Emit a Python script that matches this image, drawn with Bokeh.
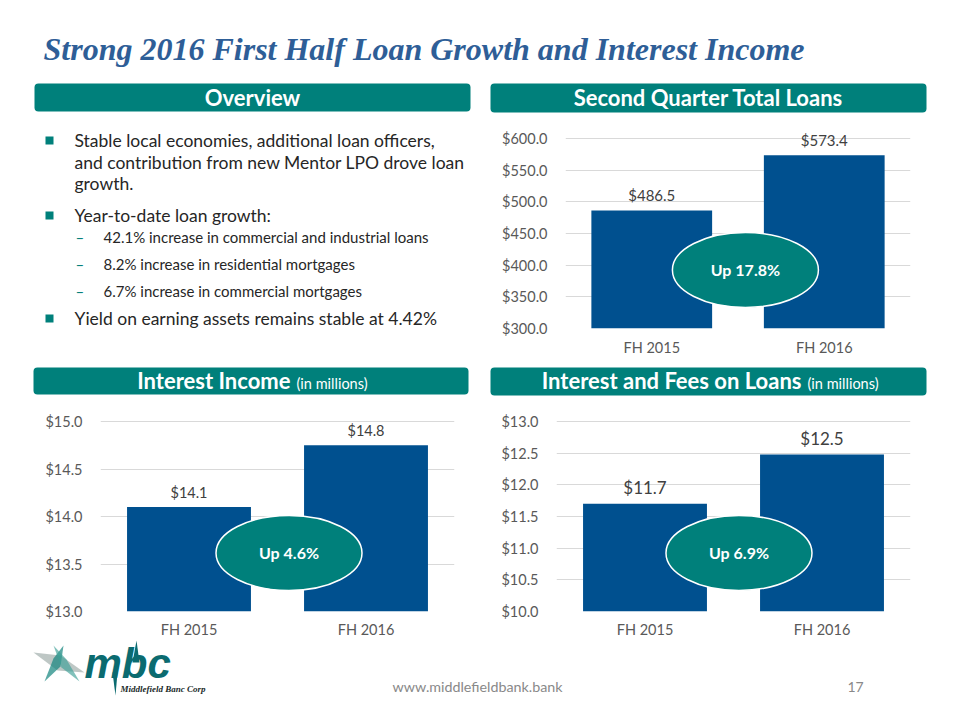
from bokeh.plotting import figure
from bokeh.layouts import column, row
from bokeh.models import Range1d, FixedTicker, NumeralTickFormatter
from bokeh.core.properties import value
from bokeh.embed import file_html
from bokeh.resources import INLINE

# ---------------- data ----------------
categories = ["FH 2015", "FH 2016"]

loans = [486.5, 573.4]
loans_labels = ["$486.5", "$573.4"]
loans_ticks = [300, 350, 400, 450, 500, 550, 600]

income = [14.1, 14.75]
income_labels = ["$14.1", "$14.8"]
income_ticks = [13.0, 13.5, 14.0, 14.5, 15.0]

fees = [11.7, 12.48]
fees_labels = ["$11.7", "$12.5"]
fees_ticks = [10.0, 10.5, 11.0, 11.5, 12.0, 12.5, 13.0]

growth = ["Up 17.8%", "Up 4.6%", "Up 6.9%"]

title_text = "Strong 2016 First Half Loan Growth and Interest Income"
main_bullets = [
    ["Stable local economies, additional loan officers,",
     "and contribution from new Mentor LPO drove loan",
     "growth."],
    ["Year-to-date loan growth:"],
    ["Yield on earning assets remains stable at 4.42%"],
]
sub_bullets = [
    "42.1% increase in commercial and industrial loans",
    "8.2% increase in residential mortgages",
    "6.7% increase in commercial mortgages",
]

# ---------------- style ----------------
TEAL = "#00807B"
BLUE = "#00508F"
TITLE_C = "#2E5E97"
TXT = "#262626"
AX = "#595959"
VAL = "#404040"
GRID = "#D9D9D9"
FONT = "Lato"


def deco(w, h, x0, y0, bt=0, bb=0):
    # figure whose data coordinates are page pixels (y grows downward)
    p = figure(width=w, height=h, x_range=Range1d(x0, x0 + w),
               y_range=Range1d(y0 + h - bb, y0 + bt),
               x_axis_type=None, y_axis_type=None, toolbar_location=None,
               output_backend="svg", min_border=0, outline_line_color=None)
    p.min_border_left = 0
    p.min_border_right = 0
    p.min_border_top = bt
    p.min_border_bottom = bb
    return p


def txt(p, x, y, s, size, color, style="normal", align="left", font=FONT):
    p.text(x=[x], y=[y], text=[s], text_font=value(font), text_font_size=value(size),
           text_color=color, text_font_style=style, text_align=align, text_baseline="middle")


def header(p, x0, x1, y0, y1, main, sub=None, split=None, cy=97):
    p.quad(left=[x0], right=[x1], top=[y0], bottom=[y1], fill_color=TEAL, line_color=None,
           border_radius=4)
    if sub is None:
        txt(p, (x0 + x1) / 2, cy, main, "22px", "white", "bold", "center")
    else:
        txt(p, split - 3, cy, main, "22px", "white", "bold", "right")
        txt(p, split + 3, cy + 3, sub, "14.5px", "white", "normal", "left")


# ---------------- top band ----------------
top = deco(960, 114, 0, 0)
txt(top, 43, 48.5, title_text, "32px", TITLE_C, "bold italic", "left", font="Liberation Serif")
header(top, 34, 470, 83, 111, "Overview")
header(top, 490, 926, 83, 112, "Second Quarter Total Loans")

# ---------------- overview (borders match the chart beside it) ----------------
ov = deco(480, 250, 0, 114, bt=10, bb=36)
main_y = [[140, 162, 183], [215], [318]]
sub_y = [236, 263, 290]
for lines, ys in zip(main_bullets, main_y):
    ov.quad(left=[45], right=[53], top=[ys[0] - 4], bottom=[ys[0] + 4], fill_color=TEAL, line_color=None)
    for s, y in zip(lines, ys):
        txt(ov, 74, y, s, "17.5px", TXT)
for s, y in zip(sub_bullets, sub_y):
    txt(ov, 75, y, "\u2013", "15px", TEAL)
    txt(ov, 103, y, s, "15px", TXT)


# ---------------- charts ----------------
def chart(w, h, left, right, top_b, bottom_b, ymin, px_per_unit, frame_h, ticks, vals, labels,
          badge, badge_x, badge_y, label_size, label_off, xstand):
    ymax = ymin + frame_h / px_per_unit
    p = figure(width=w, height=h, x_range=Range1d(-0.5, 1.5), y_range=Range1d(ymin, ymax),
               toolbar_location=None, output_backend="svg", outline_line_color=None,
               min_border_left=left, min_border_right=right, min_border_top=top_b,
               min_border_bottom=bottom_b)
    xs = list(range(len(categories)))
    p.vbar(x=xs, top=vals, bottom=ymin, width=0.7, fill_color=BLUE, line_color=None)
    p.text(x=xs, y=vals, text=labels, text_font=value(FONT), text_font_size=value(label_size),
           text_color=VAL, text_align="center", text_baseline="middle", y_offset=label_off)
    p.ellipse(x=[badge_x], y=[badge_y], width=146, height=75, width_units="screen",
              height_units="screen", fill_color=TEAL, line_color="white", line_width=1.5)
    p.text(x=[badge_x], y=[badge_y], text=[badge], text_font=value(FONT),
           text_font_size=value("16px"), text_font_style="bold", text_color="white",
           text_align="center", text_baseline="middle")
    p.yaxis.ticker = FixedTicker(ticks=ticks)
    p.yaxis.formatter = NumeralTickFormatter(format="$0.0")
    p.ygrid.ticker = FixedTicker(ticks=ticks)
    p.ygrid.grid_line_color = GRID
    p.xgrid.visible = False
    p.xaxis.ticker = FixedTicker(ticks=xs)
    p.xaxis.major_label_overrides = {i: c for i, c in enumerate(categories)}
    for ax in (p.xaxis, p.yaxis):
        ax.axis_line_color = None
        ax.major_tick_line_color = None
        ax.minor_tick_line_color = None
        ax.major_tick_out = 0
        ax.major_label_text_font = FONT
        ax.major_label_text_font_size = "14.5px"
        ax.major_label_text_color = AX
    p.yaxis.major_label_standoff = 18
    p.xaxis.major_label_standoff = xstand
    return p


c1 = chart(480, 250, 85, 50, 10, 36, 300, 190 / 300, 204, loans_ticks, loans, loans_labels,
           growth[0], 0.543, 392.4, "15px", -15, 10)

hdr = deco(960, 34, 0, 364)
header(hdr, 33, 468, 367, 394, "Interest Income", "(in millions)", 293, cy=380)
header(hdr, 490, 926, 367, 395, "Interest and Fees on Loans", "(in millions)", 804, cy=380)

c2 = chart(480, 242, 100, 26, 4, 29, 13.0, 190 / 2.0, 209, income_ticks, income, income_labels,
           growth[1], 0.565, 13.616, "14.5px", -15, 9)
c3 = chart(480, 242, 76, 50, 4, 29, 10.0, 190 / 3.0, 209, fees_ticks, fees, fees_labels,
           growth[2], 0.531, 10.924, "17px", -16, 9)

# ---------------- footer ----------------
ft = deco(960, 80, 0, 640)
ft.patches(xs=[[33, 60, 84, 57], [44, 53, 63, 60], [53, 66, 79, 61]],
           ys=[[652, 655, 672, 670], [681, 658, 645, 666], [645, 659, 681, 667]],
           fill_color=["#AEB9B6", "#12847D", "#3E9F97"], fill_alpha=[0.8, 0.7, 0.65],
           line_color=None)
ft.patches(xs=[[132, 136, 139], [112, 115, 117]], ys=[[662, 640, 662], [672, 695, 672]],
           fill_color="#0B6B70", line_color=None)
txt(ft, 84, 663, "mbc", "42px", "#0B6B70", "bold italic", font="Liberation Sans")
txt(ft, 120, 688, "Middlefield Banc Corp", "9px", "#1A2A2A", "bold italic", font="Liberation Serif")
txt(ft, 477, 686, "www.middlefieldbank.bank", "14.3px", "#898989", align="center")
txt(ft, 847, 686, "17", "14px", "#898989")

layout = column(top, row(ov, c1), hdr, row(c2, c3), ft)
open("out.html", "w").write(file_html(layout, INLINE))
